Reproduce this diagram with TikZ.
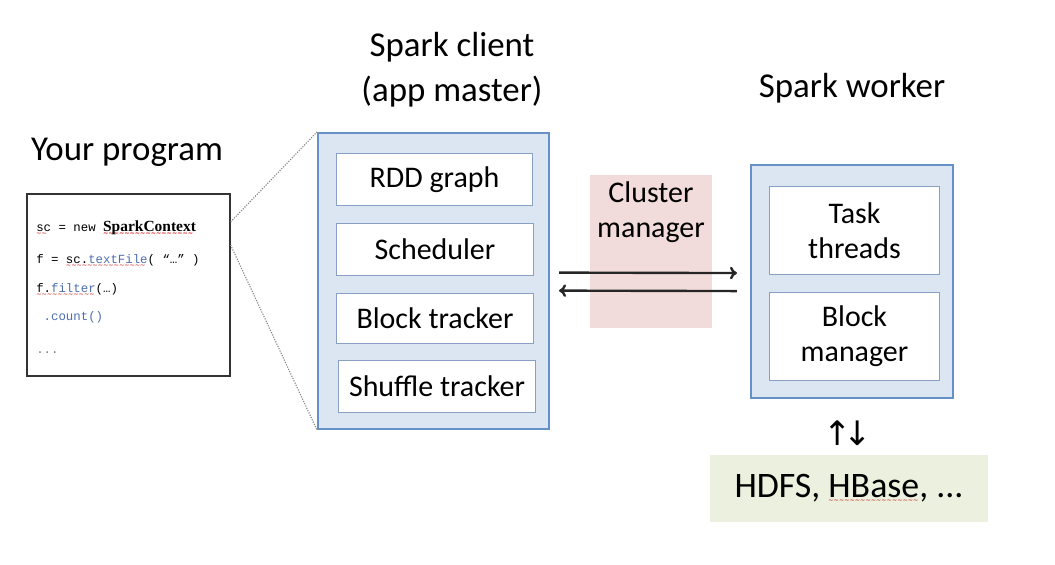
\documentclass[tikz,border=0pt]{standalone}
\usepackage{fontspec}
\setmainfont{Carlito}
\setmonofont{Liberation Mono}
\newfontfamily\codebold{Liberation Serif}
\newfontfamily\symfont{DejaVu Sans}
\usetikzlibrary{positioning,arrows.meta}
\newcommand\spellmark[1]{\setbox0\hbox{#1}\rlap{\raisebox{-3pt}{\hbox to\wd0{\color{red!80!black}\fontsize{4.5}{5}\symfont\leaders\hbox{∼}\hfill}}}\box0\relax}
\newcommand\titlefont{\fontsize{24.8}{31.9}\selectfont}
\newcommand\boxfont{\fontsize{21.3}{24.8}\selectfont}
\definecolor{panelblue}{RGB}{220,230,242}
\definecolor{edgeblue}{RGB}{100,145,200}
\definecolor{boxedge}{RGB}{135,160,195}
\definecolor{clusterpink}{RGB}{242,220,219}
\definecolor{storegreen}{RGB}{235,241,222}
\definecolor{codeblue}{RGB}{75,110,175}

\begin{document}
\begin{tikzpicture}[x=0.025cm,y=-0.025cm,
    title/.style={font=\titlefont,align=center},
    panel/.style={draw=edgeblue,line width=1.4pt,fill=panelblue,inner sep=0pt},
    part/.style={draw=boxedge,line width=0.7pt,fill=white,inner sep=0pt,font=\boxfont,align=center,minimum width=4.9cm,minimum height=1.3cm},
    code/.style={anchor=west,inner sep=0pt,font=\fontsize{8.8}{10}\ttfamily},
    zoomline/.style={densely dotted,gray,line width=0.8pt},
    flow/.style={-{To[length=5pt,width=9pt]},line width=1.7pt,black!85}]
    \useasboundingbox (0,0) rectangle (1055,565);

    % your program
    \node[title] (yourprog) at (127,152) {Your program};
    \node[draw=black!80,line width=0.8pt,minimum width=5.075cm,minimum height=4.55cm] (prog) at (128.5,285) {};
    \node[code] (code1) at (36,228) {\spellmark{sc} = new {\fontsize{11}{12}\codebold\bfseries\spellmark{SparkContext}}};
    \node[code] (code2) at (36,261) {f = \spellmark{sc.\textcolor{codeblue}{textFile}}( “…” )};
    \node[code] (code3) at (36,290) {\spellmark{f.\textcolor{codeblue}{filter}}(…)};
    \node[code] (code4) at (36,317) {\textcolor{codeblue}{\ .count()}};
    \node[code] (code5) at (36,353) {\textcolor{gray}{...}};

    % spark client
    \node[title] (clienttitle) at (452,69.5) {Spark client\\(app master)};
    \node[panel,minimum width=5.775cm,minimum height=7.4cm] (client) at (433.5,281) {};
    \node[part] (rdd) at (434.5,179.5) {RDD graph};
    \node[part] (sched) at (435,249) {Scheduler};
    \node[part,minimum height=1.25cm] (blocktr) at (435,318) {Block tracker};
    \node[part] (shuffle) at (437,386.5) {Shuffle tracker};

    \draw[zoomline] ([yshift=1.575cm]prog.east) -- (client.north west);
    \draw[zoomline] ([yshift=1cm]prog.east) -- (client.south west);

    % cluster manager
    \node[fill=clusterpink,minimum width=3.05cm,minimum height=3.825cm,inner sep=0pt] (cluster) at (651,251.5) {};
    \node[font=\boxfont,align=center] (clustertext) at (651,212) {Cluster\\manager};

    % spark worker
    \node[title] (workertitle) at (852,88) {Spark worker};
    \node[panel,minimum width=5.05cm,minimum height=5.825cm] (worker) at (852,281.5) {};
    \node[part,minimum width=4.225cm,minimum height=2.175cm] (tasks) at (854.5,230.5) {Task\\threads};
    \node[part,minimum width=4.225cm,minimum height=2.175cm] (blockmgr) at (854.5,336.5) {Block\\manager};

    \draw[flow,shorten <=0.225cm,shorten >=0.325cm] ([yshift=0.21cm]client.east) -- ([yshift=0.21cm]worker.west);
    \draw[flow,shorten <=0.325cm,shorten >=0.225cm] ([yshift=-0.24cm]worker.west) -- ([yshift=-0.24cm]client.east);

    % storage
    \node[font=\fontsize{24}{24}\symfont] (updown) at (848,433) {↑\kern-6pt↓};
    \node[fill=storegreen,minimum width=6.95cm,minimum height=1.675cm,font=\fontsize{25.5}{28}\selectfont] (store) at (849,488.5) {HDFS, \spellmark{HBase}, ...};
\end{tikzpicture}
\end{document}
